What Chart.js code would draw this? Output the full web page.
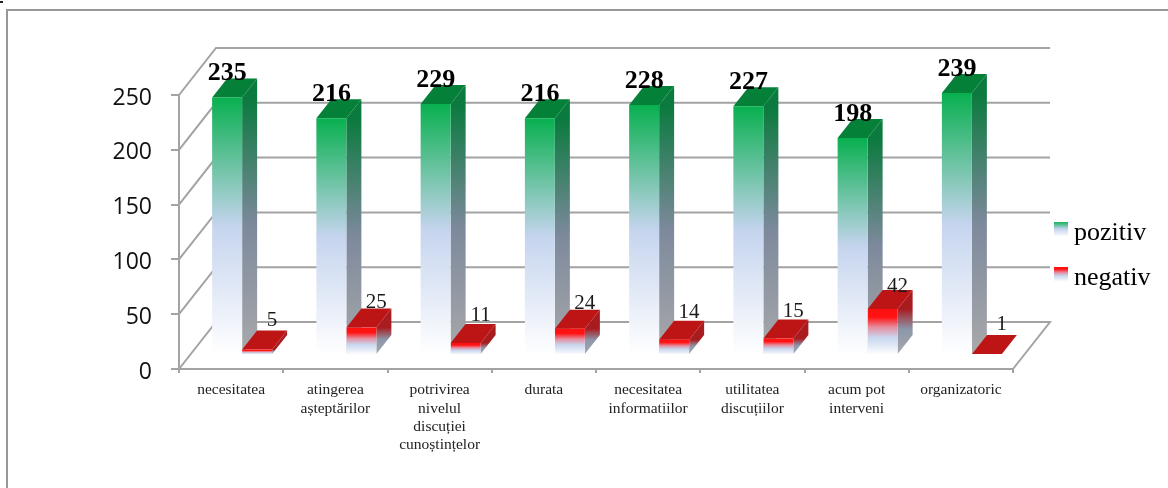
<!DOCTYPE html>
<html>
<head>
<meta charset="utf-8">
<style>
  html, body { margin: 0; padding: 0; background: #fff; overflow: hidden; }
  #frame { position: absolute; left: 6px; top: 9px; width: 1170px; height: 490px; border: 2px solid #989898; }
  #speck { position: absolute; left: 0; top: 1px; width: 3px; height: 2px; background: #222; }
  canvas { position: absolute; left: 0; top: 0; }
</style>
<script src="https://cdn.jsdelivr.net/npm/chart.js@4"></script>
</head>
<body>
<div id="speck"></div>
<div id="frame"></div>
<canvas id="myChart" width="1168" height="488"></canvas>
<script>
// data
const categories = [
  'necesitatea',
  ['atingerea', 'așteptărilor'],
  ['potrivirea', 'nivelul', 'discuției', 'cunoștințelor'],
  'durata',
  ['necesitatea', 'informatiilor'],
  ['utilitatea', 'discuțiilor'],
  ['acum pot', 'interveni'],
  'organizatoric'
];
const pozitiv = [235, 216, 229, 216, 228, 227, 198, 239];
const negativ = [5, 25, 11, 24, 14, 15, 42, 1];
const yTicks = [0, 50, 100, 150, 200, 250];

// 3d look
const wall = { dx: 37, dy: -47 };      // depth of the whole chart box
const barShift = { dx: 11, dy: -14 };  // bars stand inside the box
const barDepth = { dx: 15, dy: -19 };

const lineGray = '#a3a3a3';
const serif = '"Liberation Serif", "Times New Roman", serif';

function frontGradient(ctx, top, bottom, stops) {
  const g = ctx.createLinearGradient(0, top, 0, bottom);
  stops.forEach(s => g.addColorStop(s[0], s[1]));
  return g;
}

const greenFront = [[0, '#08b04f'], [0.5, '#c5d4ee'], [1, '#ffffff']];
const greenSide = [[0, '#0a7a3e'], [0.5, '#7d899c'], [1, '#a8a9aa']];
const redFront = [[0, '#ff1010'], [0.18, '#ff1414'], [0.4, '#e58fa0'], [0.62, '#c9d6ee'], [1, '#ffffff']];
const redSide = [[0, '#a81c20'], [0.45, '#8c97ab'], [1, '#a8a9aa']];

function barFill(stops) {
  return function (c) {
    if (!c.parsed) return stops[0][1];
    const y = c.chart.scales.y;
    return frontGradient(c.chart.ctx, y.getPixelForValue(c.parsed.y), y.getPixelForValue(0), stops);
  };
}

// small canvas swatch for the legend, the empty part below lifts it to the text
function swatch(stops) {
  const cv = document.createElement('canvas');
  cv.width = 14;
  cv.height = 23;
  const c = cv.getContext('2d');
  c.fillStyle = frontGradient(c, 0, 15, stops);
  c.fillRect(0, 0, 14, 15);
  return cv;
}

// side and top faces of one dataset's bars
function drawFaces(chart, index, sideStops, topColor) {
  const ctx = chart.ctx;
  ctx.save();
  ctx.translate(barShift.dx, barShift.dy);
  chart.getDatasetMeta(index).data.forEach(el => {
    const r = el.x + el.width / 2;
    const l = el.x - el.width / 2;
    ctx.fillStyle = frontGradient(ctx, el.y, el.base, sideStops);
    ctx.beginPath();
    ctx.moveTo(r, el.y);
    ctx.lineTo(r + barDepth.dx, el.y + barDepth.dy);
    ctx.lineTo(r + barDepth.dx, el.base + barDepth.dy);
    ctx.lineTo(r, el.base);
    ctx.closePath();
    ctx.fill();
    ctx.fillStyle = topColor;
    ctx.beginPath();
    ctx.moveTo(l, el.y);
    ctx.lineTo(l + barDepth.dx, el.y + barDepth.dy);
    ctx.lineTo(r + barDepth.dx, el.y + barDepth.dy);
    ctx.lineTo(r, el.y);
    ctx.closePath();
    ctx.fill();
  });
  ctx.restore();
}

const box3d = {
  id: 'box3d',
  afterLayout(chart) {
    // legend sits right of the back wall
    chart.legend.left = 1041;
    chart.legend.right = 1168;
    chart.legend.top = 201;
    chart.legend.bottom = 488;
  },
  beforeDatasetsDraw(chart) {
    const ctx = chart.ctx;
    const y = chart.scales.y;
    const a = chart.chartArea;
    ctx.save();
    ctx.strokeStyle = lineGray;
    ctx.lineWidth = 2;
    yTicks.forEach(v => {
      const py = y.getPixelForValue(v);
      ctx.beginPath();
      ctx.moveTo(a.left, py);
      ctx.lineTo(a.left + wall.dx, py + wall.dy);
      ctx.lineTo(a.right + wall.dx, py + wall.dy);
      if (v === 0) ctx.lineTo(a.right, py);
      ctx.stroke();
    });
    ctx.restore();
    // green side has to lie under the red bars, which chart.js draws first
    drawFaces(chart, 0, greenSide, '#058039');
    drawFaces(chart, 1, redSide, '#bd1416');
  },
  beforeDatasetDraw(chart) {
    chart.ctx.save();
    chart.ctx.translate(barShift.dx, barShift.dy);
  },
  afterDatasetDraw(chart) {
    chart.ctx.restore();
  },
  afterDatasetsDraw(chart) {
    const ctx = chart.ctx;
    ctx.save();
    ctx.textAlign = 'center';
    ctx.textBaseline = 'alphabetic';
    chart.getDatasetMeta(0).data.forEach((el, i) => {
      ctx.fillStyle = '#000';
      ctx.font = 'bold 26px ' + serif;
      ctx.fillText(pozitiv[i], el.x + barShift.dx, el.y + barShift.dy - 17);
    });
    chart.getDatasetMeta(1).data.forEach((el, i) => {
      ctx.fillStyle = '#1a1a1a';
      ctx.font = '21px ' + serif;
      ctx.fillText(negativ[i], el.x + barShift.dx + barDepth.dx, el.y + barShift.dy - 24 + negativ[i] * 0.16);
    });
    ctx.restore();
  }
};

new Chart(document.getElementById('myChart').getContext('2d'), {
  type: 'bar',
  data: {
    labels: categories,
    datasets: [
      { label: 'pozitiv', data: pozitiv, backgroundColor: barFill(greenFront) },
      { label: 'negativ', data: negativ, backgroundColor: barFill(redFront) }
    ]
  },
  options: {
    responsive: false,
    animation: false,
    layout: { padding: { top: 95, right: 155, left: 0, bottom: 0 } },
    datasets: { bar: { categoryPercentage: 0.5755, barPercentage: 1 } },
    plugins: {
      tooltip: { enabled: false },
      legend: {
        position: 'chartArea',
        align: 'start',
        labels: {
          usePointStyle: true,
          boxWidth: 1,
          boxHeight: 14,
          padding: 19,
          color: '#111',
          font: { family: serif, size: 26 },
          generateLabels() {
            return [
              { text: 'pozitiv', pointStyle: swatch(greenFront), datasetIndex: 0, lineWidth: 0 },
              { text: 'negativ', pointStyle: swatch(redFront), datasetIndex: 1, lineWidth: 0 }
            ];
          }
        }
      }
    },
    scales: {
      x: {
        grid: { drawOnChartArea: false, color: lineGray, lineWidth: 2, tickLength: 4, offset: true },
        border: { color: lineGray, width: 2 },
        ticks: { color: '#222', padding: 8, maxRotation: 0, autoSkip: false, font: { family: serif, size: 15.5, lineHeight: 1.18 } },
        afterFit(s) { s.height = 119; }
      },
      y: {
        min: 0,
        max: 250,
        grid: { drawOnChartArea: false, color: lineGray, lineWidth: 2, tickLength: 8 },
        border: { color: lineGray, width: 2 },
        ticks: {
          stepSize: 50,
          color: '#111',
          padding: 19,
          labelOffset: 3,
          font: { family: '"Open Sans", sans-serif', size: 23 }
        },
        afterFit(s) { s.width = 179; }
      }
    }
  },
  plugins: [box3d]
});
</script>
</body>
</html>
